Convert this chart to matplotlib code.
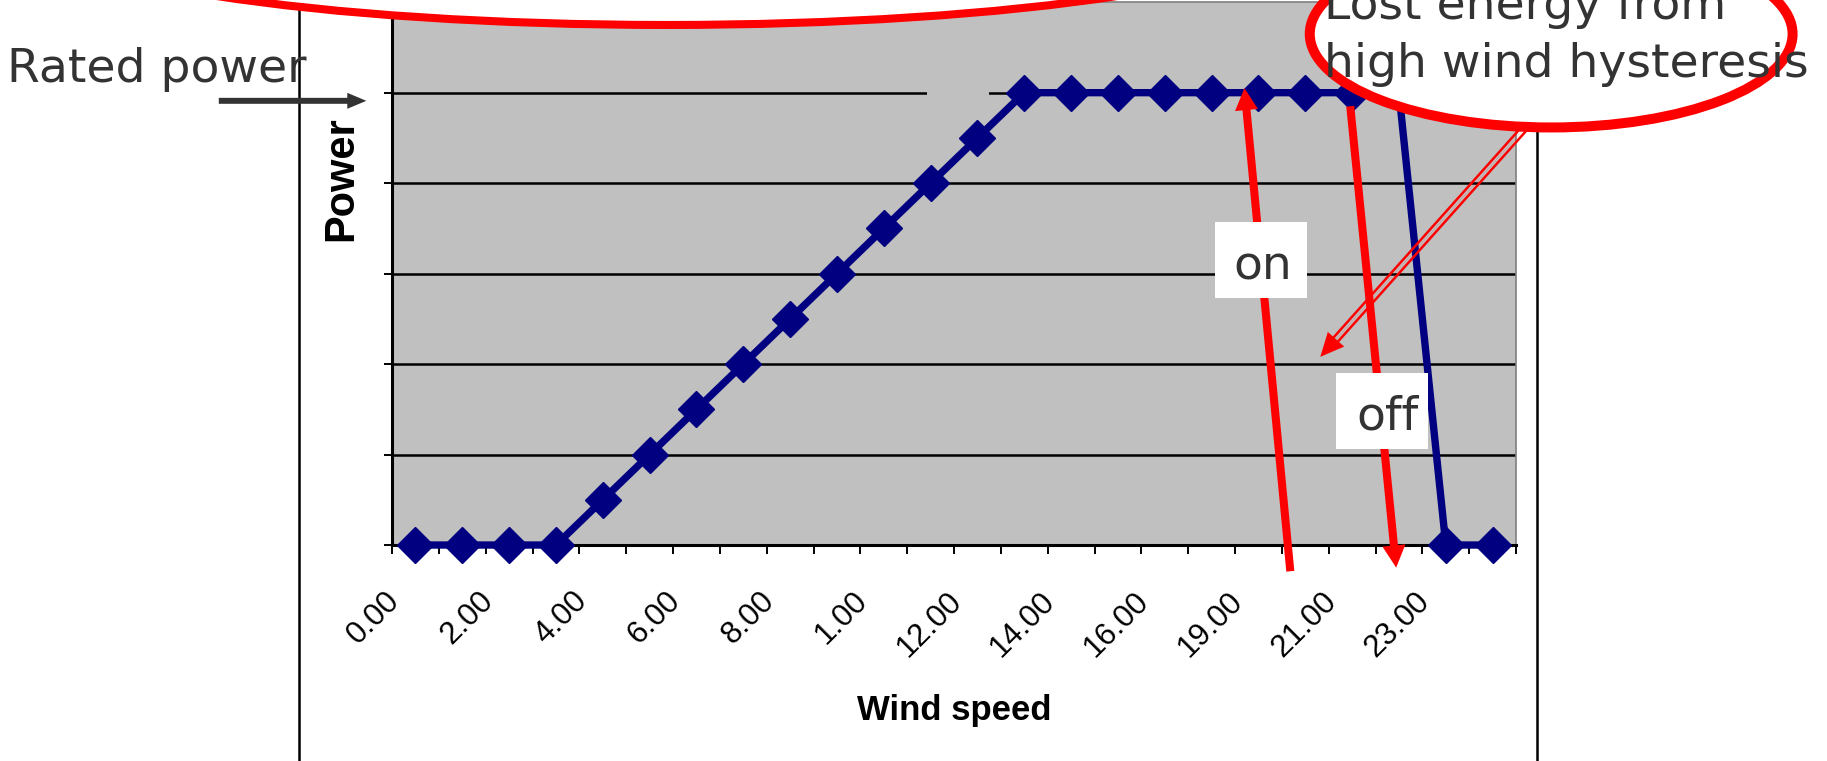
import matplotlib
matplotlib.use("Agg")
import matplotlib.pyplot as plt
import numpy as np
from matplotlib.patches import Ellipse, Rectangle, FancyArrowPatch
from matplotlib.transforms import ScaledTranslation, offset_copy

# turbine power curve: one value per wind-speed bin, rated power = 5
power = [0, 0, 0, 0, 0.5, 1, 1.5, 2, 2.5, 3, 3.5, 4, 4.5,
         5, 5, 5, 5, 5, 5, 5, 5, 5, 0, 0]
# labels printed under every second bin
tick_labels = ["0.00", "2.00", "4.00", "6.00", "8.00", "1.00",
               "12.00", "14.00", "16.00", "19.00", "21.00", "23.00"]

navy = "#000080"
plot_bg = "#C0C0C0"
ink = "#333333"
note_font = "DejaVu Sans"
axis_font = "Liberation Sans"

fig = plt.figure(figsize=(18.27, 7.61), dpi=100)
ax = fig.add_axes([0.2146, 0.2838, 0.6152, 0.7133])
ax.set_facecolor(plot_bg)

x = np.arange(len(power))
ax.set_xlim(-0.5, len(power) - 0.5)
ax.set_ylim(0, 6)

# horizontal gridlines + outward ticks
ax.set_axisbelow(True)
ax.set_yticks(range(0, 6))
ax.tick_params(axis="y", direction="out", length=5.8, width=1.4, labelleft=False)
ax.yaxis.grid(True, color="black", lw=1.8)

# tick marks on the bin boundaries, labels on every other bin centre
ax.set_xticks(np.arange(-0.5, len(power)))
ax.set_xticks(x[::2], labels=tick_labels, minor=True)
ax.tick_params(axis="x", which="major", direction="out", length=6.5, width=1.4,
               labelbottom=False)
ax.tick_params(axis="x", which="minor", length=0, pad=29.5, labelsize=22.5)
shift = ScaledTranslation(-0.31, 0, fig.dpi_scale_trans)
for lab in ax.get_xticklabels(minor=True):
    lab.set_rotation(45)
    lab.set_ha("right")
    lab.set_rotation_mode("anchor")
    lab.set_fontfamily(axis_font)
    lab.set_transform(lab.get_transform() + shift)

for s in ("left", "bottom"):
    ax.spines[s].set_linewidth(2.2)
    ax.spines[s].set_color("black")
for s in ("top", "right"):
    ax.spines[s].set_linewidth(1.2)
    ax.spines[s].set_color("#808080")

# small break in the rated-power gridline
ax.add_patch(Rectangle((10.92, 4.9), 1.33, 0.2, facecolor=plot_bg,
                       edgecolor="none", zorder=1.5))

ax.plot(x, power, color=navy, lw=5.3, marker="D", ms=18.5, mec=navy, mew=1,
        zorder=3, clip_on=False)

ax.set_xlabel("Wind speed", fontsize=25, fontweight="bold", fontfamily=axis_font)
ax.xaxis.set_label_coords(0.5, -0.274)
ax.set_ylabel("Power", fontsize=30, fontweight="bold", fontfamily=axis_font)
ax.yaxis.label.set_va("center")
ax.yaxis.set_label_coords(-0.0454, 0.675)


def block_arrow(tail, tip, tail_pt, head_len, head_w, color, z):
    style = (f"simple,head_length={head_len},head_width={head_w},"
             f"tail_width={tail_pt / 10}")
    ax.add_patch(FancyArrowPatch(tail, tip, arrowstyle=style, mutation_scale=10,
                                 color=color, lw=0, shrinkA=0, shrinkB=0,
                                 clip_on=False, zorder=z))


# cut-in / cut-out arrows with their labels
block_arrow((18.68, -0.29), (17.70, 5.05), 5.8, 1.58, 1.66, "red", 4)
block_arrow((19.96, 4.85), (20.94, -0.25), 5.8, 1.6, 1.66, "red", 4)

ax.add_patch(Rectangle((17.07, 2.73), 1.97, 0.84, facecolor="white",
                       edgecolor="none", zorder=5))
ax.text(18.1, 2.94, "on", ha="center", va="baseline", fontsize=34,
        color=ink, family=note_font, zorder=6)
ax.add_patch(Rectangle((19.66, 1.06), 1.96, 0.84, facecolor="white",
                       edgecolor="none", zorder=5))
ax.text(20.75, 1.28, "off", ha="center", va="baseline", fontsize=34,
        color=ink, family=note_font, zorder=6)

# double-line pointer from the hysteresis callout
tail, tip = np.array([23.91, 4.74]), np.array([19.32, 2.08])
block_arrow(tail, tip, 0.1, 1.7, 1.58, "red", 4)
p0, p1 = ax.transData.transform(tail), ax.transData.transform(tip)
length = np.hypot(*(p1 - p0))
d = (p1 - p0) / length
base = tail + (tip - tail) * (1 - 20 / length)
nrm = np.array([-d[1], d[0]]) * 3.0
for sgn in (1, -1):
    tr = offset_copy(ax.transData, fig=fig, x=sgn * nrm[0], y=sgn * nrm[1],
                     units="dots")
    ax.plot([tail[0], base[0]], [tail[1], base[1]], color="red", lw=1.8,
            transform=tr, clip_on=False, zorder=4, solid_capstyle="butt")

# chart frame edges
for fx in (-2.49, 23.95):
    ax.axvline(fx, ymin=-0.5, ymax=1.05, color="black", lw=1.8,
               clip_on=False, zorder=1)

# callout ellipses
ax.add_patch(Ellipse((5.37, 6.854), 27.33, 2.211, facecolor="white",
                     edgecolor="red", lw=5.8, zorder=7, clip_on=False))
ax.add_patch(Ellipse((24.25, 5.649), 10.31, 2.067, facecolor="white",
                     edgecolor="red", lw=7.2, zorder=7, clip_on=False))
ax.text(19.39, 5.815, "Lost energy from", fontsize=34, color=ink,
        family=note_font, va="baseline", zorder=8, clip_on=False)
ax.text(19.39, 5.174, "high wind hysteresis", fontsize=34, color=ink,
        family=note_font, va="baseline", zorder=8, clip_on=False)

ax.text(-8.73, 5.12, "Rated power", fontsize=34, color=ink, family=note_font,
        va="baseline", zorder=8, clip_on=False)
block_arrow((-4.2, 4.91), (-1.05, 4.91), 4.3, 1.37, 1.15, ink, 9)

fig.savefig("out.png", dpi=100, facecolor="white")
